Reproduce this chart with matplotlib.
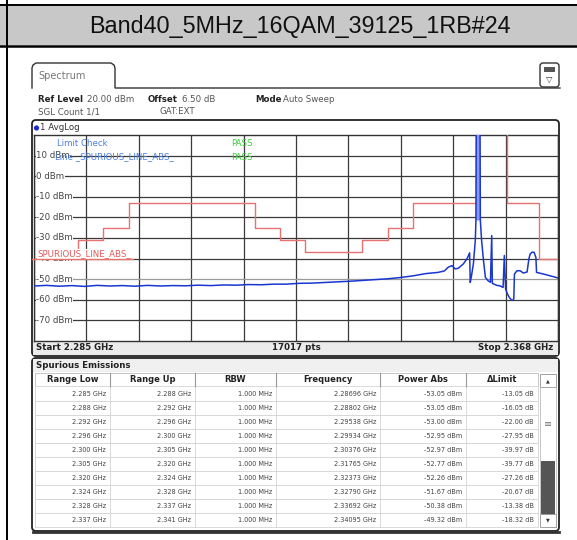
import matplotlib
matplotlib.use("Agg")
import matplotlib.pyplot as plt
from matplotlib import font_manager
from matplotlib.patches import Rectangle, FancyBboxPatch, Circle

# ---- data ----
title = "Band40_5MHz_16QAM_39125_1RB#24"

f_start, f_stop = 2.285, 2.368
n_points = 17017
y_levels = [10, 0, -10, -20, -30, -40, -50, -60, -70]

# limit line segments (GHz / dBm), the in-band part runs off the top
lim_lo = [2.285, 2.288, 2.292, 2.296, 2.300, 2.305, 2.320, 2.324, 2.328, 2.337, 2.341, 2.345, 2.355, 2.360, 2.365]
lim_hi = [2.288, 2.292, 2.296, 2.300, 2.305, 2.320, 2.324, 2.328, 2.337, 2.341, 2.345, 2.355, 2.360, 2.365, 2.368]
lim_db = [-40, -37, -31, -25, -13, -13, -25, -31, -37, -31, -25, -13, 40, -13, -40]

# AvgLog trace
trace_f = [2.2850, 2.2870, 2.2890, 2.2910, 2.2930, 2.2950, 2.2970, 2.2990, 2.3010, 2.3030,
           2.3050, 2.3070, 2.3090, 2.3110, 2.3130, 2.3150, 2.3170, 2.3190, 2.3210, 2.3230,
           2.3250, 2.3270, 2.3290, 2.3310, 2.3330, 2.3350, 2.3370, 2.3390, 2.3410, 2.3430,
           2.3450, 2.3470, 2.3490, 2.3500, 2.3506, 2.3512, 2.3517, 2.3522, 2.3530, 2.3536,
           2.3540, 2.3541, 2.3543, 2.3546, 2.3549, 2.3550, 2.35505, 2.35565, 2.3557, 2.3559,
           2.3562, 2.3565, 2.3569, 2.3573, 2.3575, 2.3576, 2.3578, 2.3583, 2.3588, 2.3593,
           2.3595, 2.3597, 2.3600, 2.3603, 2.3606, 2.3609, 2.3610, 2.3611, 2.3615, 2.3620,
           2.3625, 2.3631, 2.3634, 2.3636, 2.3639, 2.3642, 2.3645, 2.3646, 2.3657, 2.3673,
           2.3680]
trace_db = [-53.3, -53.0, -53.4, -53.1, -53.5, -53.0, -53.3, -53.1, -53.4, -53.0,
            -53.3, -53.1, -53.2, -52.9, -53.1, -52.8, -52.9, -52.6, -52.7, -52.4,
            -52.4, -52.0, -51.9, -51.6, -51.3, -51.0, -50.6, -50.2, -49.8, -49.2,
            -48.4, -47.3, -46.7, -46.0, -44.2, -43.4, -45.0, -44.7, -42.6, -40.0,
            -37.2, -51.6, -48.3, -42.5, -31.2, -21.5, 25.0, 25.0, -21.5, -31.2,
            -41.0, -49.1, -50.7, -51.5, -28.8, -52.0, -52.3, -53.0, -53.2, -54.0,
            -38.5, -54.8, -57.2, -58.9, -60.0, -60.2, -59.5, -47.5, -45.9, -45.9,
            -47.0, -46.5, -40.0, -37.7, -36.9, -36.9, -39.4, -46.7, -47.5, -48.8,
            -49.4]

# spurious emissions table
col_names = ["Range Low", "Range Up", "RBW", "Frequency", "Power Abs", "\u0394Limit"]
range_low = ["2.285 GHz", "2.288 GHz", "2.292 GHz", "2.296 GHz", "2.300 GHz",
             "2.305 GHz", "2.320 GHz", "2.324 GHz", "2.328 GHz", "2.337 GHz"]
range_up = ["2.288 GHz", "2.292 GHz", "2.296 GHz", "2.300 GHz", "2.305 GHz",
            "2.320 GHz", "2.324 GHz", "2.328 GHz", "2.337 GHz", "2.341 GHz"]
rbw = ["1.000 MHz"] * 10
freq = ["2.28696 GHz", "2.28802 GHz", "2.29538 GHz", "2.29934 GHz", "2.30376 GHz",
        "2.31765 GHz", "2.32373 GHz", "2.32790 GHz", "2.33692 GHz", "2.34095 GHz"]
power_abs = ["-53.05 dBm", "-53.05 dBm", "-53.00 dBm", "-52.95 dBm", "-52.97 dBm",
             "-52.77 dBm", "-52.26 dBm", "-51.67 dBm", "-50.38 dBm", "-49.32 dBm"]
delta_lim = ["-13.05 dB", "-16.05 dB", "-22.00 dB", "-27.95 dB", "-39.97 dB",
             "-39.77 dB", "-27.26 dB", "-20.67 dB", "-13.38 dB", "-18.32 dB"]

W, H = 577, 540
fig = plt.figure(figsize=(W / 100, H / 100), dpi=100)

# table digits are narrow on the instrument; use a condensed face if there is one
fonts = font_manager.fontManager.ttflist
if any(f.name == "DejaVu Sans" and "condensed" in str(f.stretch) for f in fonts):
    tfont = dict(family="DejaVu Sans", fontstretch="condensed", fontsize=5.2)
else:
    tfont = dict(family="DejaVu Sans", fontsize=4.9)
sfont = dict(family="DejaVu Sans", fontsize=6.2)

# overlay in pixel coords for the document / instrument chrome
ov = fig.add_axes([0, 0, 1, 1])
ov.set_xlim(0, W)
ov.set_ylim(H, 0)
ov.axis("off")

ov.add_patch(Rectangle((0, 5), W, 40, fc="#c8c8c8", ec="none"))
ov.plot([0, W], [5, 5], color="black", lw=1.4)
ov.plot([0, W], [45.5, 45.5], color="black", lw=1.8)
ov.plot([7, 7], [0, H], color="black", lw=1.4)
ov.text(300, 26, title, ha="center", va="center", fontsize=16.8, family="Liberation Sans", color="#111")

# Spectrum tab + line
ov.plot([32, 32, 33, 36, 111, 114, 115, 115, 560], [88, 68, 65, 63, 63, 65, 68, 88, 88], color="#333", lw=1.0)
ov.text(38, 76, "Spectrum", va="center", color="#777", **{**sfont, "fontsize": 7})
ov.add_patch(FancyBboxPatch((540, 63), 19, 24, boxstyle="round,pad=0,rounding_size=3", fc="white", ec="#333", lw=1.0))
ov.add_patch(Rectangle((544, 67), 11, 5, fc="#555", ec="none"))
ov.text(549.5, 79, "\u25BD", ha="center", va="center", fontsize=6, color="#333")

# header lines
ov.text(38, 99, "Ref Level", va="center", weight="bold", color="#222", **sfont)
ov.text(87, 99, "20.00 dBm", va="center", color="#555", **sfont)
ov.text(148, 99, "Offset", va="center", weight="bold", color="#222", **sfont)
ov.text(182, 99, "6.50 dB", va="center", color="#555", **sfont)
ov.text(255, 99, "Mode", va="center", weight="bold", color="#222", **sfont)
ov.text(283, 99, "Auto Sweep", va="center", color="#555", **sfont)
ov.text(38, 112, "SGL Count 1/1", va="center", color="#555", **sfont)
ov.text(160, 112, "GAT:EXT", va="center", color="#555", **sfont)

# diagram frame
ov.add_patch(FancyBboxPatch((32, 120), 527, 236, boxstyle="round,pad=0,rounding_size=4", fc="white", ec="#222", lw=1.3))
ov.add_patch(Rectangle((33, 341), 525, 14, fc="#ececec", ec="none"))
ov.add_patch(Circle((36.5, 128), 2.6, fc="#1a2ad0", ec="none"))
ov.text(40, 128, "1 AvgLog", va="center", color="#333", **sfont)
ov.text(36, 348, f"Start {f_start:.3f} GHz", va="center", weight="bold", color="#222", **sfont)
ov.text(296, 348, f"{n_points} pts", va="center", ha="center", weight="bold", color="#222", **sfont)
ov.text(553, 348, f"Stop {f_stop:.3f} GHz", va="center", ha="right", weight="bold", color="#222", **sfont)

# spurious emissions table
ov.add_patch(FancyBboxPatch((32, 358), 527, 173, boxstyle="round,pad=0,rounding_size=4", fc="white", ec="#222", lw=1.3))
ov.plot([33, 559], [532, 532], color="#333", lw=2.0)
ov.add_patch(Rectangle((33, 359), 525, 13, fc="#f0f0f0", ec="none"))
ov.text(36, 365, "Spurious Emissions", va="center", weight="bold", color="#222", **sfont)

col_edges = [35, 110, 195, 276, 380, 466, 538]
row_y0, row_dy = 393.5, 14.1
ov.add_patch(Rectangle((35, 373), 503, 14, fc="white", ec="#bbb", lw=0.6))
for i, name in enumerate(col_names):
    ov.text((col_edges[i] + col_edges[i + 1]) / 2, 380, name, ha="center", va="center",
            weight="bold", color="#222", **{**sfont, "fontsize": 6.0})
for xe in col_edges[1:-1]:
    ov.plot([xe, xe], [373, 387], color="#999", lw=0.8)
columns = [range_low, range_up, rbw, freq, power_abs, delta_lim]
for r in range(len(range_low)):
    yc = row_y0 + r * row_dy
    ov.add_patch(Rectangle((35, yc - row_dy / 2), 503, row_dy, fc="white", ec="#d4d4d4", lw=0.6))
    for c, col in enumerate(columns):
        ov.text(col_edges[c + 1] - 4, yc, col[r], ha="right", va="center", color="#444", **tfont)
for xe in col_edges[1:-1]:
    ov.plot([xe, xe], [387, row_y0 + 9.5 * row_dy], color="#d4d4d4", lw=0.6)

# scrollbar
ov.add_patch(Rectangle((540, 374), 16, 153, fc="white", ec="#bbb", lw=0.6))
ov.add_patch(Rectangle((540, 374), 16, 13, fc="white", ec="#999", lw=0.6))
ov.text(548, 381, "\u25B2", ha="center", va="center", fontsize=3.5, color="#333")
ov.text(548, 424, "\u2261", ha="center", va="center", fontsize=7, color="#777")
ov.add_patch(Rectangle((541, 461), 14, 55, fc="#555", ec="none"))
ov.add_patch(Rectangle((540, 514), 16, 13, fc="white", ec="#999", lw=0.6))
ov.text(548, 520, "\u25BC", ha="center", va="center", fontsize=3.5, color="#333")

# ---- spectrum diagram ----
ax = fig.add_axes([34 / W, 1 - 341 / H, 524 / W, 206 / H])
ax.set_facecolor("white")
ax.set_xlim(f_start, f_stop)
ax.set_ylim(-80, 20)
ax.set_xticks([f_start + i * (f_stop - f_start) / 10 for i in range(11)])
ax.set_yticks(y_levels)
ax.tick_params(length=0, labelbottom=False, labelleft=False)
ax.grid(True, color="#3a3a3a", lw=0.9)
for gl, lv in zip(ax.get_ygridlines(), y_levels):
    if lv == -50:
        gl.set_color("#9a9a9a")
for s in ax.spines.values():
    s.set_color("#333")
    s.set_linewidth(1.0)

# limit line as steps
lx, ly = [], []
for lo, hi, db in zip(lim_lo, lim_hi, lim_db):
    lx += [lo, hi]
    ly += [db, db]
ax.plot(lx, ly, color="#e87272", lw=1.0, zorder=3)

ax.fill(trace_f[45:49], trace_db[45:49], color="#8a9af2", lw=0, zorder=3)
ax.plot(trace_f, trace_db, color="#1a36d0", lw=1.1, zorder=4)

ytr = ax.get_yaxis_transform()
for lv in y_levels:
    ax.text(0.004, lv, f"{lv} dBm", transform=ytr, va="center", ha="left", color="#444",
            bbox=dict(fc="white", ec="none", pad=0.4), zorder=5, **sfont)

ax.text(0.044, 0.96, "Limit Check", transform=ax.transAxes, va="center", color="#4a7ee0", zorder=6, **sfont)
ax.text(0.376, 0.96, "PASS", transform=ax.transAxes, va="center", color="#3ccc3c", zorder=6, **sfont)
ax.text(0.040, 0.893, "Line _SPURIOUS_LINE_ABS_", transform=ax.transAxes, va="center", color="#4a7ee0", zorder=6, **sfont)
ax.text(0.376, 0.893, "PASS", transform=ax.transAxes, va="center", color="#3ccc3c", zorder=6, **sfont)

ax.text(0.006, -40, "SPURIOUS_LINE_ABS_", transform=ytr, va="bottom", ha="left", color="#e05a5a",
        bbox=dict(fc="white", ec="none", pad=0.2), zorder=6, **sfont)
ax.plot([-0.004, 0.188], [-40, -40], transform=ytr, color="#e87272", lw=1.0, zorder=7, clip_on=False)

fig.savefig("out.png", dpi=100)
